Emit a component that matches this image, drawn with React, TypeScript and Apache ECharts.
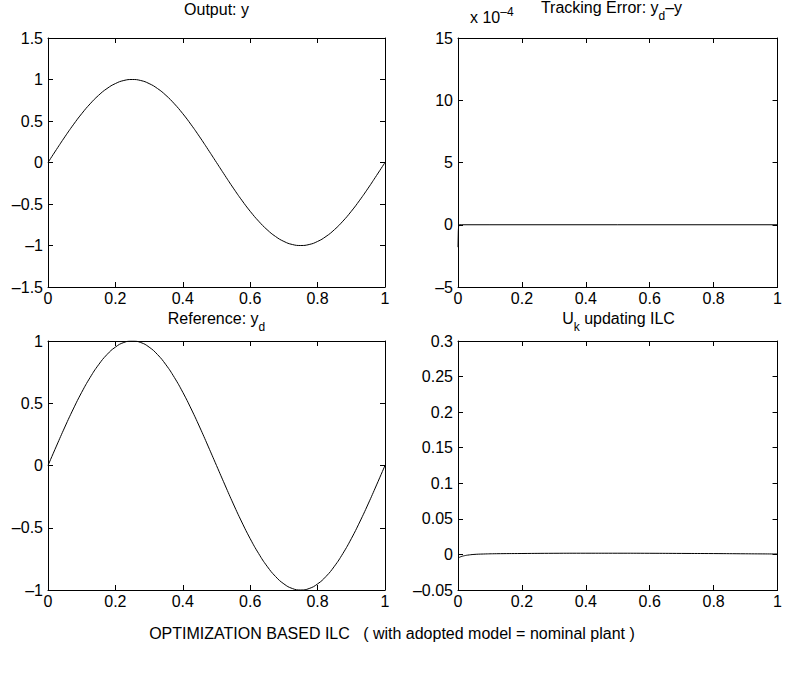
import React, { useEffect, useRef } from "react";
import * as echarts from "echarts";

// time samples for the sine-shaped signals
const tSine = [
  0, 0.025, 0.05, 0.075, 0.1, 0.125, 0.15, 0.175, 0.2, 0.225, 0.25, 0.275, 0.3, 0.325, 0.35, 0.375, 0.4,
  0.425, 0.45, 0.475, 0.5, 0.525, 0.55, 0.575, 0.6, 0.625, 0.65, 0.675, 0.7, 0.725, 0.75, 0.775, 0.8,
  0.825, 0.85, 0.875, 0.9, 0.925, 0.95, 0.975, 1,
];
// Output: y
const outputY = [
  0, 0.156, 0.309, 0.454, 0.588, 0.707, 0.809, 0.891, 0.951, 0.988, 1, 0.988, 0.951, 0.891, 0.809, 0.707,
  0.588, 0.454, 0.309, 0.156, 0, -0.156, -0.309, -0.454, -0.588, -0.707, -0.809, -0.891, -0.951, -0.988,
  -1, -0.988, -0.951, -0.891, -0.809, -0.707, -0.588, -0.454, -0.309, -0.156, 0,
];
// Reference: y_d
const referenceY = [
  0, 0.156, 0.309, 0.454, 0.588, 0.707, 0.809, 0.891, 0.951, 0.988, 1, 0.988, 0.951, 0.891, 0.809, 0.707,
  0.588, 0.454, 0.309, 0.156, 0, -0.156, -0.309, -0.454, -0.588, -0.707, -0.809, -0.891, -0.951, -0.988,
  -1, -0.988, -0.951, -0.891, -0.809, -0.707, -0.588, -0.454, -0.309, -0.156, 0,
];
// Tracking error (units of 1e-4)
const errT = [0, 0.001, 0.002, 0.004, 0.01, 0.1, 0.5, 1];
const errV = [-1.8, -0.5, -0.1, 0, 0, 0, 0, 0];
// U_k updating ILC
const uT = [0, 0.005, 0.01, 0.02, 0.03, 0.05, 0.08, 0.12, 0.2, 0.3, 0.4, 0.5, 0.6, 0.7, 0.8, 0.9, 1];
const uV = [
  -0.005, -0.004, -0.003, -0.0018, -0.001, 0, 0.0006, 0.001, 0.0013, 0.0016, 0.0017, 0.0017, 0.0016,
  0.0014, 0.0012, 0.0009, 0.0006,
];

const titles = ["Output: y", "Tracking Error: y_d–y", "Reference: y_d", "U_k updating ILC"];
const footer = "OPTIMIZATION BASED ILC   ( with adopted model = nominal plant )";

const FONT = "'Liberation Sans', Arial, Helvetica, sans-serif";
const FS = 16;

const grids = [
  { left: 48, top: 38, width: 337, height: 249 },
  { left: 458, top: 38, width: 321, height: 249 },
  { left: 48, top: 341, width: 337, height: 249 },
  { left: 458, top: 341, width: 321, height: 249 },
];
const yRanges = [
  { min: -1.5, max: 1.5, interval: 0.5 },
  { min: -5, max: 15, interval: 5 },
  { min: -1, max: 1, interval: 0.5 },
  { min: -0.05, max: 0.3, interval: 0.05 },
];

const fmt = (v: number) => String(parseFloat(v.toFixed(3))).replace("-", "–");

export default function App() {
  const ref = useRef<HTMLDivElement>(null);
  useEffect(() => {
    if (!ref.current) return;
    const chart = echarts.init(ref.current, undefined, { renderer: "svg" });
    const axisLine = { show: true, onZero: false, lineStyle: { color: "#000", width: 1 } };
    const axisTick = { show: true, inside: true, length: 5, lineStyle: { color: "#000", width: 1 } };
    const xAxis: any[] = [];
    const yAxis: any[] = [];
    grids.forEach((g, i) => {
      xAxis.push({
        type: "value", gridIndex: i, min: 0, max: 1, interval: 0.2, position: "bottom",
        axisLine, axisTick, splitLine: { show: false },
        axisLabel: { show: true, color: "#000", fontFamily: FONT, fontSize: FS, margin: 3, formatter: fmt },
      });
      xAxis.push({
        type: "value", gridIndex: i, min: 0, max: 1, interval: 0.2, position: "top",
        axisLine, axisTick, splitLine: { show: false }, axisLabel: { show: false },
      });
      yAxis.push({
        type: "value", gridIndex: i, ...yRanges[i], position: "left",
        axisLine, axisTick, splitLine: { show: false },
        axisLabel: { show: true, color: "#000", fontFamily: FONT, fontSize: FS, margin: 5, formatter: fmt },
      });
      yAxis.push({
        type: "value", gridIndex: i, ...yRanges[i], position: "right",
        axisLine, axisTick, splitLine: { show: false }, axisLabel: { show: false },
      });
    });
    const mk = (xs: number[], ys: number[], i: number, smooth: boolean) => ({
      type: "line", xAxisIndex: i * 2, yAxisIndex: i * 2, showSymbol: false, smooth,
      data: xs.map((x, k) => [x, ys[k]]),
      lineStyle: { color: "#000", width: 1 }, silent: true,
    });
    const main = { fontFamily: FONT, fontSize: FS, color: "#000", lineHeight: 19, verticalAlign: "bottom" };
    const sub = { fontFamily: FONT, fontSize: 12, color: "#000", lineHeight: 12, verticalAlign: "top", padding: [11, 0, 0, 0] };
    const sup = { fontFamily: FONT, fontSize: 12, color: "#000", lineHeight: 12, verticalAlign: "top", padding: [0, 0, 15, 0] };
    const mainSub = { ...main, verticalAlign: "top" };
    const richSub = { a: mainSub, s: sub };
    const titleText = [
      "{a|" + titles[0] + "}",
      "{a|Tracking Error: y}{s|d}{a|–y}",
      "{a|Reference: y}{s|d}",
      "{a|U}{s|k}{a| updating ILC}",
    ];
    const titleY = [1, -1, 310, 310];
    const titleDx = [0, -7, 0, 0];
    const graphic: any[] = grids.map((g, i) => ({
      type: "text",
      x: g.left + g.width / 2 + titleDx[i],
      y: titleY[i],
      style: {
        text: titleText[i], rich: richSub, align: "center", textAlign: "center",
        verticalAlign: "top", textVerticalAlign: "top", fill: "#000",
        font: `${FS}px ${FONT}`,
      },
    }));
    graphic.push({
      type: "text", x: 470, y: 6,
      style: {
        text: "{a|x 10}{p|–4}", rich: { a: main, p: sup },
        align: "left", textAlign: "left", verticalAlign: "top", textVerticalAlign: "top",
        fill: "#000", font: `${FS}px ${FONT}`,
      },
    });
    graphic.push({
      type: "text", x: 392, y: 633,
      style: {
        text: footer, align: "center", textAlign: "center", verticalAlign: "middle", textVerticalAlign: "middle",
        fill: "#000", font: `${FS}px ${FONT}`,
      },
    });
    chart.setOption({
      animation: false,
      backgroundColor: "#fff",
      grid: grids.map((g) => ({ ...g, containLabel: false })),
      xAxis,
      yAxis,
      series: [
        mk(tSine, outputY, 0, true),
        mk(errT, errV, 1, false),
        mk(tSine, referenceY, 2, true),
        mk(uT, uV, 3, true),
      ],
      graphic,
    });
    return () => chart.dispose();
  }, []);
  return (
    <div
      ref={ref}
      style={{ position: "absolute", left: 0, top: 0, width: 785, height: 675, background: "#fff" }}
    />
  );
}
